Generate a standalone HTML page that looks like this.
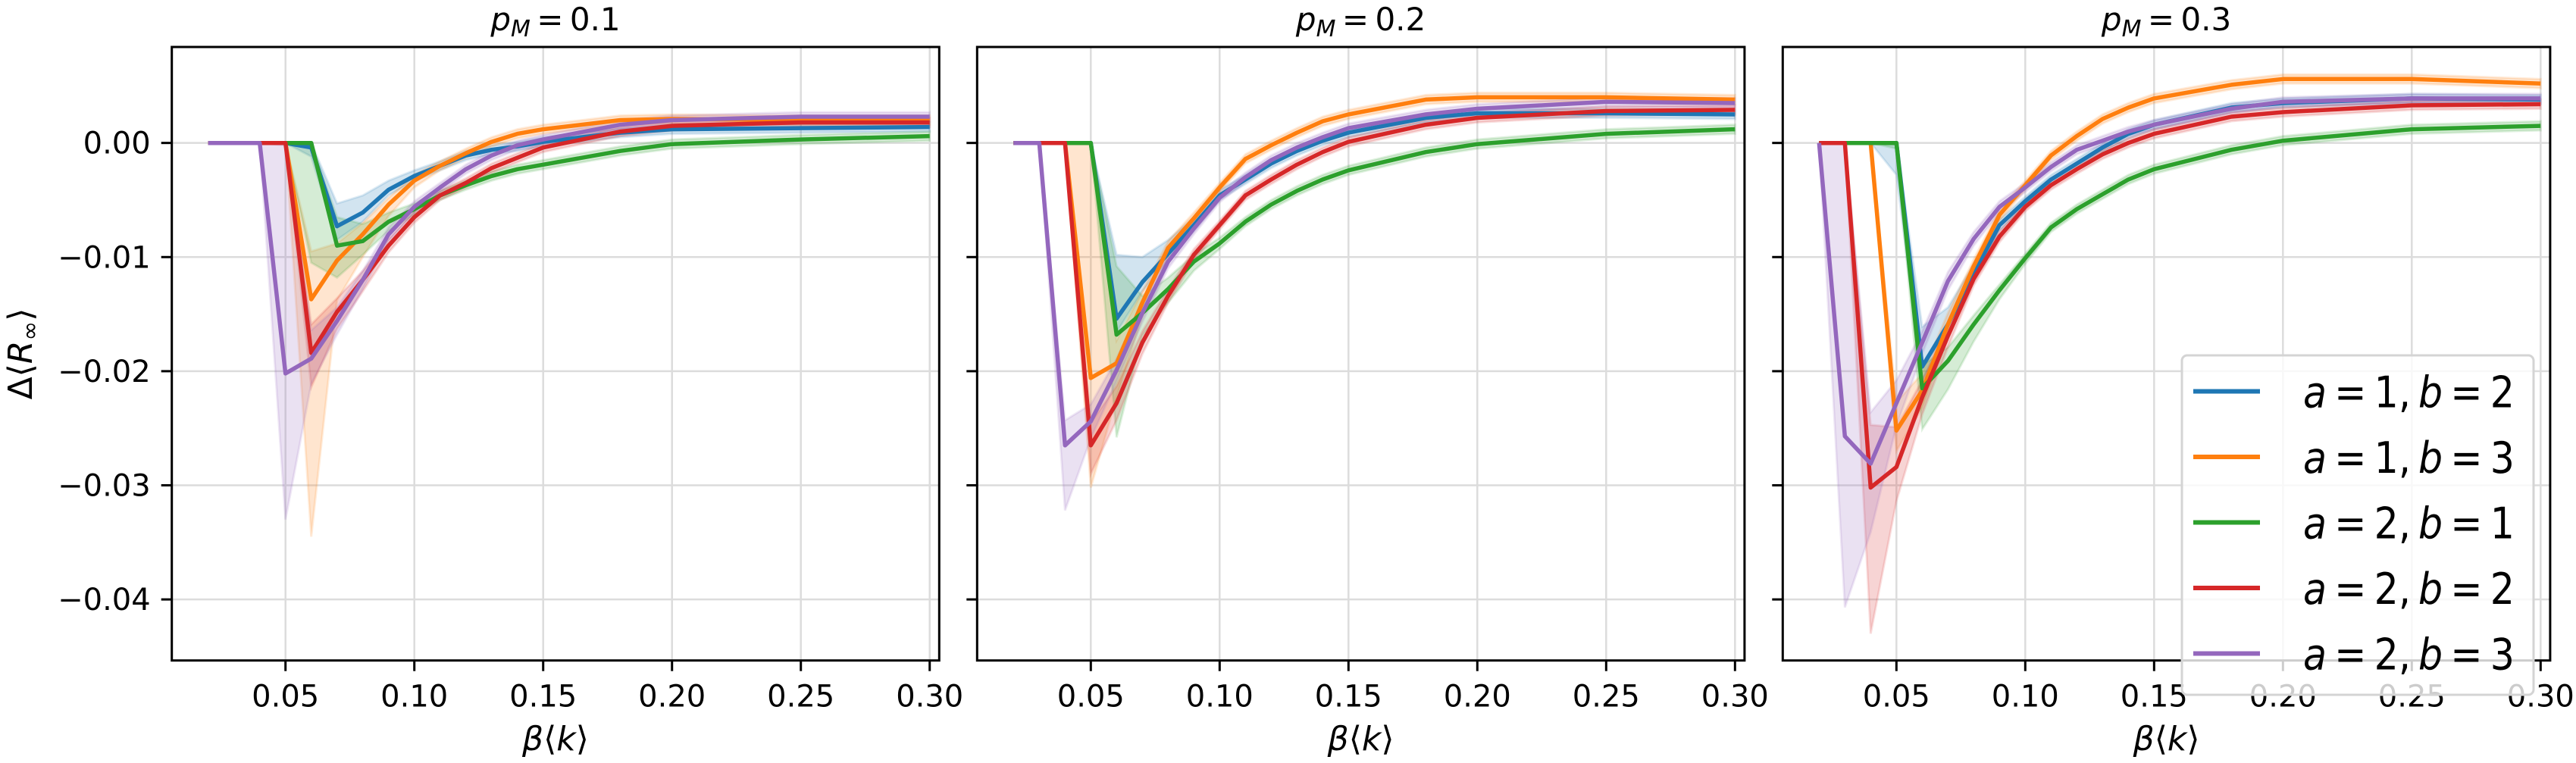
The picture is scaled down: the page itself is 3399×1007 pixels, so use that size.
<!DOCTYPE html>
<html><head><meta charset="utf-8"><style>
html,body{margin:0;padding:0;background:#fff;}
svg{display:block;font-family:"DejaVu Sans","Liberation Sans",sans-serif;}
</style></head>
<body>
<svg id="chart" width="3399" height="1007" viewBox="0 0 3399 1007" xmlns="http://www.w3.org/2000/svg"></svg>
<script>
const xVals=[0.02,0.03,0.04,0.05,0.06,0.07,0.08,0.09,0.10,0.11,0.12,0.13,0.14,0.15,0.18,0.20,0.25,0.30];
const xTicks=[0.05,0.10,0.15,0.20,0.25,0.30];
const xTickLabels=["0.05","0.10","0.15","0.20","0.25","0.30"];
const yTicks=[0,-0.01,-0.02,-0.03,-0.04];
const yTickLabels=["0.00","\u22120.01","\u22120.02","\u22120.03","\u22120.04"];
const panelTitles=["0.1","0.2","0.3"];
const seriesNames=["a = 1, b = 2","a = 1, b = 3","a = 2, b = 1","a = 2, b = 2","a = 2, b = 3"];
const seriesColors=["#1f77b4","#ff7f0e","#2ca02c","#d62728","#9467bd"];

// panel 1 (p_M = 0.1)
const p1Blue=[0,0,0,0,-0.0004,-0.0073,-0.0061,-0.0041,-0.0029,-0.002,-0.0011,-0.0006,-0.0003,0.0001,0.0009,0.0012,0.0013,0.0014];
const p1Orange=[0,0,0,0,-0.0137,-0.0103,-0.008,-0.0054,-0.0033,-0.002,-0.0009,0.0001,0.0008,0.0012,0.002,0.0021,0.002,0.002];
const p1Green=[0,0,0,0,0,-0.009,-0.0086,-0.0069,-0.0058,-0.0046,-0.0037,-0.0029,-0.0023,-0.0019,-0.0007,-0.0001,0.0003,0.0006];
const p1Red=[0,0,0,0,-0.0184,-0.0148,-0.012,-0.009,-0.0065,-0.0046,-0.0035,-0.0022,-0.0013,-0.0004,0.001,0.0015,0.0018,0.0018];
const p1Purple=[0,0,0,-0.0202,-0.0189,-0.0156,-0.012,-0.008,-0.0056,-0.0039,-0.0023,-0.0011,-0.0002,0.0003,0.0016,0.002,0.0023,0.0023];
// band extents below (lo) and above (hi) the line
const p1BlueLo=[0,0,0,0,0.0008,0.0012,0.0008,0.0005,0.0004,0.0004,0.0004,0.0004,0.0004,0.0004,0.0004,0.0004,0.0004,0.0004];
const p1BlueHi=[0,0,0,0,0.0004,0.002,0.0015,0.0008,0.0005,0.0004,0.0004,0.0004,0.0004,0.0004,0.0004,0.0004,0.0004,0.0004];
const p1OrangeLo=[0,0,0,0,0.0208,0.0035,0.002,0.001,0.0006,0.0004,0.0004,0.0004,0.0004,0.0004,0.0004,0.0004,0.0004,0.0004];
const p1OrangeHi=[0,0,0,0,0.0042,0.0015,0.001,0.0006,0.0005,0.0004,0.0004,0.0004,0.0004,0.0004,0.0004,0.0004,0.0004,0.0004];
const p1GreenLo=[0,0,0,0,0.0105,0.0028,0.0012,0.0008,0.0005,0.0004,0.0004,0.0004,0.0004,0.0004,0.0004,0.0004,0.0004,0.0004];
const p1GreenHi=[0,0,0,0,0,0.0025,0.0015,0.0008,0.0005,0.0004,0.0004,0.0004,0.0004,0.0004,0.0004,0.0004,0.0004,0.0004];
const p1RedLo=[0,0,0,0,0.003,0.0015,0.001,0.0006,0.0005,0.0004,0.0004,0.0004,0.0004,0.0004,0.0004,0.0004,0.0004,0.0004];
const p1RedHi=[0,0,0,0,0.0025,0.0012,0.0008,0.0006,0.0005,0.0004,0.0004,0.0004,0.0004,0.0004,0.0004,0.0004,0.0004,0.0004];
const p1PurpleLo=[0,0,0,0.0128,0.0022,0.0012,0.0008,0.0006,0.0005,0.0004,0.0004,0.0004,0.0004,0.0004,0.0004,0.0004,0.0004,0.0004];
const p1PurpleHi=[0,0,0,0.02,0.0025,0.0012,0.0008,0.0006,0.0005,0.0004,0.0004,0.0004,0.0004,0.0004,0.0004,0.0004,0.0004,0.0004];

// panel 2 (p_M = 0.2)
const p2Blue=[0,0,0,0,-0.0154,-0.0122,-0.0097,-0.0072,-0.0046,-0.0032,-0.0018,-0.0007,0.0002,0.0009,0.0022,0.0026,0.0026,0.0025];
const p2Orange=[0,0,0,-0.0206,-0.0193,-0.014,-0.0092,-0.0066,-0.0039,-0.0014,-0.0002,0.0009,0.0019,0.0025,0.0038,0.004,0.004,0.0038];
const p2Green=[0,0,0,0,-0.0168,-0.0149,-0.0128,-0.0104,-0.0088,-0.0069,-0.0054,-0.0042,-0.0032,-0.0024,-0.0008,-0.0001,0.0008,0.0012];
const p2Red=[0,0,0,-0.0265,-0.0228,-0.0175,-0.0134,-0.0098,-0.0072,-0.0046,-0.0032,-0.0019,-0.0008,0.0001,0.0016,0.0022,0.0028,0.0029];
const p2Purple=[0,0,-0.0265,-0.0244,-0.0199,-0.0149,-0.0104,-0.0075,-0.0048,-0.003,-0.0015,-0.0004,0.0005,0.0013,0.0025,0.003,0.0036,0.0035];
const p2BlueLo=[0,0,0,0,0.0012,0.0008,0.0006,0.0005,0.0004,0.0004,0.0004,0.0004,0.0004,0.0004,0.0004,0.0004,0.0004,0.0004];
const p2BlueHi=[0,0,0,0,0.0056,0.0022,0.0012,0.0007,0.0005,0.0004,0.0004,0.0004,0.0004,0.0004,0.0004,0.0004,0.0004,0.0004];
const p2OrangeLo=[0,0,0,0.0096,0.003,0.0012,0.0008,0.0005,0.0004,0.0004,0.0004,0.0004,0.0004,0.0004,0.0004,0.0004,0.0004,0.0004];
const p2OrangeHi=[0,0,0,0.0206,0.002,0.001,0.0006,0.0005,0.0004,0.0004,0.0004,0.0004,0.0004,0.0004,0.0004,0.0004,0.0004,0.0004];
const p2GreenLo=[0,0,0,0,0.009,0.002,0.0012,0.0008,0.0005,0.0004,0.0004,0.0004,0.0004,0.0004,0.0004,0.0004,0.0004,0.0004];
const p2GreenHi=[0,0,0,0,0.006,0.0015,0.001,0.0006,0.0005,0.0004,0.0004,0.0004,0.0004,0.0004,0.0004,0.0004,0.0004,0.0004];
const p2RedLo=[0,0,0,0.0025,0.0015,0.001,0.0006,0.0005,0.0004,0.0004,0.0004,0.0004,0.0004,0.0004,0.0004,0.0004,0.0004,0.0004];
const p2RedHi=[0,0,0,0.002,0.0015,0.001,0.0006,0.0005,0.0004,0.0004,0.0004,0.0004,0.0004,0.0004,0.0004,0.0004,0.0004,0.0004];
const p2PurpleLo=[0,0,0.0057,0.0015,0.001,0.0008,0.0006,0.0005,0.0004,0.0004,0.0004,0.0004,0.0004,0.0004,0.0004,0.0004,0.0004,0.0004];
const p2PurpleHi=[0,0,0.0022,0.0015,0.001,0.0008,0.0006,0.0005,0.0004,0.0004,0.0004,0.0004,0.0004,0.0004,0.0004,0.0004,0.0004,0.0004];

// panel 3 (p_M = 0.3)
const p3Blue=[0,0,0,0,-0.0196,-0.0159,-0.0114,-0.0072,-0.0051,-0.0032,-0.0018,-0.0004,0.0008,0.0016,0.0031,0.0035,0.0039,0.0038];
const p3Orange=[0,0,0,-0.0252,-0.0217,-0.0159,-0.0108,-0.0063,-0.0037,-0.0011,0.0006,0.0021,0.0031,0.0039,0.0051,0.0056,0.0056,0.0052];
const p3Green=[0,0,0,0,-0.0215,-0.0191,-0.0159,-0.0129,-0.0101,-0.0074,-0.0058,-0.0045,-0.0032,-0.0023,-0.0006,0.0002,0.0012,0.0015];
const p3Red=[0,0,-0.0302,-0.0284,-0.0223,-0.0169,-0.0119,-0.0082,-0.0056,-0.0037,-0.0023,-0.001,0,0.0008,0.0023,0.0027,0.0033,0.0034];
const p3Purple=[0,-0.0257,-0.0281,-0.0228,-0.0175,-0.0121,-0.0084,-0.0056,-0.0039,-0.0021,-0.0006,0.0002,0.001,0.0016,0.003,0.0036,0.0039,0.0039];
const p3BlueLo=[0,0,0,0.0028,0.0012,0.0008,0.0006,0.0005,0.0004,0.0004,0.0004,0.0004,0.0004,0.0004,0.0004,0.0004,0.0004,0.0004];
const p3BlueHi=[0,0,0,0,0.0035,0.0015,0.0008,0.0005,0.0004,0.0004,0.0004,0.0004,0.0004,0.0004,0.0004,0.0004,0.0004,0.0004];
const p3OrangeLo=[0,0,0,0.0018,0.0015,0.001,0.0006,0.0005,0.0004,0.0004,0.0004,0.0004,0.0004,0.0004,0.0004,0.0004,0.0004,0.0004];
const p3OrangeHi=[0,0,0,0.0025,0.0015,0.001,0.0006,0.0005,0.0004,0.0004,0.0004,0.0004,0.0004,0.0004,0.0004,0.0004,0.0004,0.0004];
const p3GreenLo=[0,0,0,0.0005,0.0036,0.0025,0.0015,0.0008,0.0005,0.0004,0.0004,0.0004,0.0004,0.0004,0.0004,0.0004,0.0004,0.0004];
const p3GreenHi=[0,0,0,0,0.002,0.0012,0.0008,0.0005,0.0004,0.0004,0.0004,0.0004,0.0004,0.0004,0.0004,0.0004,0.0004,0.0004];
const p3RedLo=[0,0,0.0128,0.003,0.0015,0.001,0.0006,0.0005,0.0004,0.0004,0.0004,0.0004,0.0004,0.0004,0.0004,0.0004,0.0004,0.0004];
const p3RedHi=[0,0,0.0055,0.0035,0.0015,0.001,0.0006,0.0005,0.0004,0.0004,0.0004,0.0004,0.0004,0.0004,0.0004,0.0004,0.0004,0.0004];
const p3PurpleLo=[0,0.015,0.006,0.002,0.001,0.0008,0.0006,0.0005,0.0004,0.0004,0.0004,0.0004,0.0004,0.0004,0.0004,0.0004,0.0004,0.0004];
const p3PurpleHi=[0,0.0257,0.0045,0.002,0.001,0.0008,0.0006,0.0005,0.0004,0.0004,0.0004,0.0004,0.0004,0.0004,0.0004,0.0004,0.0004,0.0004];

const panelSeries=[[p1Blue,p1Orange,p1Green,p1Red,p1Purple],[p2Blue,p2Orange,p2Green,p2Red,p2Purple],[p3Blue,p3Orange,p3Green,p3Red,p3Purple]];
const panelLo=[[p1BlueLo,p1OrangeLo,p1GreenLo,p1RedLo,p1PurpleLo],[p2BlueLo,p2OrangeLo,p2GreenLo,p2RedLo,p2PurpleLo],[p3BlueLo,p3OrangeLo,p3GreenLo,p3RedLo,p3PurpleLo]];
const panelHi=[[p1BlueHi,p1OrangeHi,p1GreenHi,p1RedHi,p1PurpleHi],[p2BlueHi,p2OrangeHi,p2GreenHi,p2RedHi,p2PurpleHi],[p3BlueHi,p3OrangeHi,p3GreenHi,p3RedHi,p3PurpleHi]];

const NS="http://www.w3.org/2000/svg";
const svg=document.getElementById('chart');
const panelLefts=[226.7,1289.3,2352.3];
const PW=1012.6, TOP=62, BOTTOM=871.7;
const XMIN=0.00588, XMAX=0.3037, YMAX=0.00841, YMIN=-0.04535;
function mk(tag,attrs,parent){const e=document.createElementNS(NS,tag);for(const k in attrs)e.setAttribute(k,attrs[k]);(parent||svg).appendChild(e);return e;}
function xs(p,v){return panelLefts[p]+(v-XMIN)/(XMAX-XMIN)*PW;}
function ys(v){return TOP+(YMAX-v)/(YMAX-YMIN)*(BOTTOM-TOP);}

for(let p=0;p<3;p++){
  const g=mk('g',{});
  
  
  const L=panelLefts[p], R=L+PW;
  xTicks.forEach((t,i)=>{
    const ln=mk('line',{x1:xs(p,t),x2:xs(p,t),y1:TOP,y2:BOTTOM,stroke:'#dcdcdc','stroke-width':2.5},g);
    
    
  });
  yTicks.forEach((t,i)=>{
    const ln=mk('line',{x1:L,x2:R,y1:ys(t),y2:ys(t),stroke:'#dcdcdc','stroke-width':2.5},g);
    
    
  });
  const clipId='clip'+p;
  const cp=mk('clipPath',{id:clipId},g); mk('rect',{x:L,y:TOP,width:PW,height:BOTTOM-TOP},cp);
  const data=panelSeries[p];
  for(let s=0;s<5;s++){
    const v=data[s], lo=panelLo[p][s], hi=panelHi[p][s];
    let d='';
    xVals.forEach((x,i)=>{d+=(i?'L':'M')+xs(p,x).toFixed(1)+','+ys(v[i]+hi[i]).toFixed(1);});
    for(let i=xVals.length-1;i>=0;i--){d+='L'+xs(p,xVals[i]).toFixed(1)+','+ys(v[i]-lo[i]).toFixed(1);}
    const band=mk('path',{d:d+'Z',fill:seriesColors[s],'fill-opacity':0.2,stroke:seriesColors[s],'stroke-opacity':0.15,'stroke-width':3,'clip-path':'url(#'+clipId+')'},g);
    
    
  }
  for(let s=0;s<5;s++){
    const v=data[s];
    const pts=xVals.map((x,i)=>xs(p,x).toFixed(1)+','+ys(v[i]).toFixed(1)).join(' ');
    const line=mk('polyline',{points:pts,fill:'none',stroke:seriesColors[s],'stroke-width':5.5,'stroke-linejoin':'round','clip-path':'url(#'+clipId+')'},g);
    
    
  }
  const fr=mk('rect',{x:L,y:TOP,width:PW,height:BOTTOM-TOP,fill:'none',stroke:'#000','stroke-width':3},g);
  
  
  xTicks.forEach((t,i)=>{
    mk('line',{x1:xs(p,t),x2:xs(p,t),y1:BOTTOM,y2:BOTTOM+14,stroke:'#000','stroke-width':3},g);
    const tx=mk('text',{x:xs(p,t),y:BOTTOM+61,'text-anchor':'middle','font-size':40,fill:'#000'},g);
    tx.textContent=xTickLabels[i];
    
    
  });
  yTicks.forEach((t,i)=>{
    mk('line',{x1:L-14,x2:L,y1:ys(t),y2:ys(t),stroke:'#000','stroke-width':3},g);
    if(p===0){
      const tx=mk('text',{x:L-28,y:ys(t)+14,'text-anchor':'end','font-size':40,fill:'#000'},g);
      tx.textContent=yTickLabels[i];
      
      
    }
  });
  const ti=mk('text',{x:L+PW/2,y:40,'text-anchor':'middle','font-size':42,fill:'#000'},g);
  ti.innerHTML='<tspan font-style="italic">p</tspan><tspan font-style="italic" font-size="30" dy="8">M</tspan><tspan dy="-8">\u2009=\u2009'+panelTitles[p]+'</tspan>';
  
  
  const xl=mk('text',{x:L+PW/2,y:990,'text-anchor':'middle','font-size':44,fill:'#000'},g);
  xl.innerHTML='<tspan font-style="italic">β</tspan>⟨<tspan font-style="italic">k</tspan>⟩';
  
  
}
const yl=mk('text',{x:0,y:0,'text-anchor':'middle','font-size':44,fill:'#000',transform:'translate(42,467) rotate(-90)'});
yl.innerHTML='Δ⟨<tspan font-style="italic">R</tspan><tspan font-size="31" dy="8">∞</tspan><tspan dy="-8">⟩</tspan>';



const lg=mk('g',{});


mk('rect',{x:2879,y:469,width:464,height:448,rx:7,fill:'#fff','fill-opacity':0.8,stroke:'#d4d4d4','stroke-width':3},lg);
seriesNames.forEach((n,i)=>{
  const y=516.5+i*86.5;
  const e=mk('g',{},lg);
  
  
  mk('line',{x1:2894,x2:2982,y1:y,y2:y,stroke:seriesColors[i],'stroke-width':6},e);
  const parts=n.split(', ');
  const a=parts[0].split(' = '), b=parts[1].split(' = ');
  const t=mk('text',{x:3039,y:y+21,'font-size':57,fill:'#000',textLength:279,lengthAdjust:'spacingAndGlyphs'},e);
  t.innerHTML='<tspan font-style="italic">'+a[0]+'</tspan>\u2009=\u2009'+a[1]+',\u2009<tspan font-style="italic">'+b[0]+'</tspan>\u2009=\u2009'+b[1];
});
</script>
</body></html>
